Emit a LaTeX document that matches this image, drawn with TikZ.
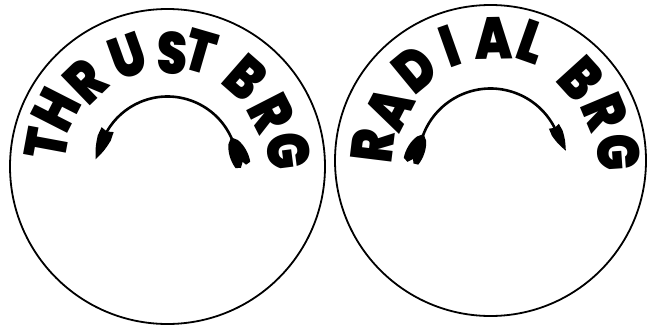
\documentclass[tikz,border=0pt]{standalone}
\usepackage{fontspec}
\newfontfamily\lblfont{Poppins}[UprightFont={* Black}, FakeStretch=0.82]
\begin{document}
\begin{tikzpicture}[x=1pt,y=1pt,
  ring/.style={draw=black, line width=1.8pt},
  letter/.style={font={\lblfont\fontsize{59}{59}\selectfont}, inner sep=0pt, text=black},
  arcline/.style={draw=black, line width=2.6pt, line cap=round},
  arrowhd/.pic={\fill[black] (0,0) -- (-2,6.5) -- (7,7) .. controls (18,5) .. (30,0) .. controls (18,-5) .. (7,-7) -- (-2,-6.5) -- cycle;},
  fletch/.pic={\fill[black] (-2,0) -- (3,5) .. controls (10,9) and (20,10) .. (28,8) -- (29,3) -- (25,1) -- (30,-3) -- (28,-8) .. controls (20,-10) and (10,-9) .. (3,-5) -- cycle;}
]
\useasboundingbox (0,0) rectangle (647,325);
\coordinate (c1) at (167.5,158.5);
\coordinate (c2) at (490.5,164.5);
% rings
\draw[ring] (c1) circle[radius=157.5];
\draw[ring] (c2) circle[radius=155.5];
% left label
\node[letter, rotate=79.5] (a1) at ([shift={(169.5:123)}]c1) {T};
\node[letter, rotate=63] (a2) at ([shift={(153:125)}]c1) {H};
\node[letter, rotate=44] (a3) at ([shift={(134:118)}]c1) {R};
\node[letter, rotate=19.7] (a4) at ([shift={(109.7:117)}]c1) {U};
\node[letter, rotate=-2.3] (a5) at ([shift={(87.7:114)}]c1) {S};
\node[letter, rotate=-16.2] (a6) at ([shift={(73.8:120)}]c1) {T};
\node[letter, rotate=-41.2] (a7) at ([shift={(48.8:118)}]c1) {B};
\node[letter, rotate=-62.9] (a8) at ([shift={(27.1:117)}]c1) {R};
\node[letter, rotate=-82.7] (a9) at ([shift={(7.3:122)}]c1) {G};
% right label
\node[letter, rotate=83] (b1) at ([shift={(173:119)}]c2) {R};
\node[letter, rotate=62.6] (b2) at ([shift={(152.6:114)}]c2) {A};
\node[letter, rotate=39.5] (b3) at ([shift={(129.5:119)}]c2) {D};
\node[letter, rotate=19.5] (b4) at ([shift={(109.5:121)}]c2) {I};
\node[letter, rotate=1] (b5) at ([shift={(88.5:122)}]c2) {A};
\node[letter, rotate=-19.4] (b6) at ([shift={(70.6:126)}]c2) {L};
\node[letter, rotate=-47.8] (b7) at ([shift={(42.2:122)}]c2) {B};
\node[letter, rotate=-67.2] (b8) at ([shift={(22.8:124)}]c2) {R};
\node[letter, rotate=-86.1] (b9) at ([shift={(3.9:128)}]c2) {G};
% left arrow (counter-clockwise)
\coordinate (p1s) at ([shift={(23:70)}]c1);
\coordinate (p1e) at ([shift={(150:70)}]c1);
\draw[arcline] (p1s) arc[start angle=23, end angle=150, radius=70];
\pic[rotate=248] at (p1e) {arrowhd};
\pic[rotate=-67] at (p1s) {fletch};
% right arrow (clockwise)
\coordinate (p2s) at ([shift={(160:72)}]c2);
\coordinate (p2e) at ([shift={(27:72)}]c2);
\draw[arcline] (p2s) arc[start angle=160, end angle=27, radius=72];
\pic[rotate=-64, scale=0.85] at (p2e) {arrowhd};
\pic[rotate=245] at (p2s) {fletch};
\end{tikzpicture}
\end{document}
